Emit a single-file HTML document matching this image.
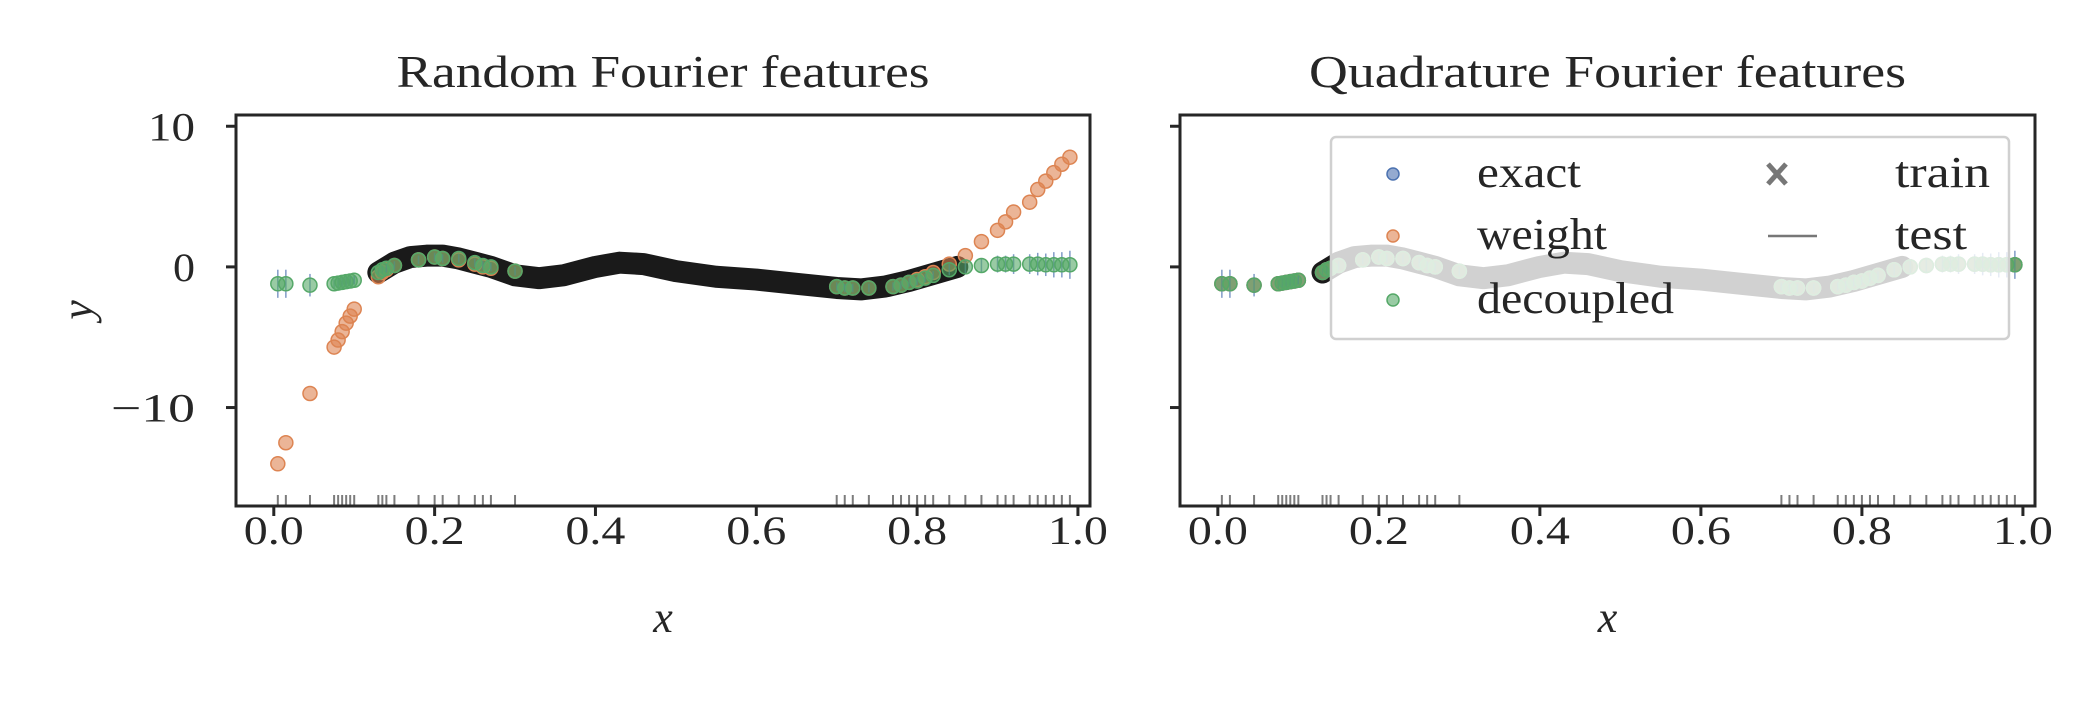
<!DOCTYPE html>
<html><head><meta charset="utf-8"><style>
body{margin:0;background:#fff}
svg text{font-family:"Liberation Serif",serif;fill:#262626}
</style></head><body>
<svg id="chart" width="2100" height="700" xmlns="http://www.w3.org/2000/svg"></svg>
<script>
const trainX=[0.005,0.015,0.045,0.075,0.08,0.085,0.09,0.095,0.1,0.13,0.135,0.14,0.15,0.18,0.2,0.21,0.23,0.25,0.26,0.27,0.3,0.7,0.71,0.72,0.74,0.77,0.78,0.79,0.8,0.81,0.82,0.84,0.86,0.88,0.9,0.91,0.92,0.94,0.95,0.96,0.97,0.98,0.99];
const decoupledY=[-1.2,-1.2,-1.3,-1.2,-1.15,-1.1,-1.05,-1.0,-0.95,-0.4,-0.2,-0.1,0.1,0.5,0.7,0.6,0.6,0.3,0.1,0.0,-0.3,-1.4,-1.5,-1.5,-1.5,-1.4,-1.3,-1.1,-1.0,-0.8,-0.6,-0.2,0.0,0.1,0.2,0.2,0.2,0.2,0.2,0.15,0.15,0.15,0.15];
const weightY=[-14,-12.5,-9,-5.7,-5.2,-4.6,-4,-3.5,-3,-0.7,-0.4,-0.2,0.1,0.5,0.7,0.6,0.5,0.2,0,-0.1,-0.3,-1.4,-1.5,-1.5,-1.5,-1.4,-1.3,-1.1,-0.9,-0.7,-0.4,0.2,0.8,1.8,2.6,3.2,3.9,4.6,5.5,6.1,6.7,7.3,7.8];
const errY=[1,1,0.8,0.3,0.3,0.3,0.3,0.3,0.3,0.3,0.3,0.3,0.3,0.3,0.3,0.3,0.3,0.3,0.3,0.3,0.3,0.3,0.3,0.3,0.3,0.3,0.3,0.3,0.3,0.3,0.3,0.4,0.5,0.5,0.6,0.6,0.7,0.7,0.8,0.8,0.9,0.9,1.0];
const quadY=[-1.2,-1.2,-1.3,-1.2,-1.15,-1.1,-1.05,-1.0,-0.95,-0.4,-0.2,-0.1,0.1,0.5,0.7,0.6,0.6,0.3,0.1,0.0,-0.3,-1.4,-1.5,-1.5,-1.5,-1.4,-1.3,-1.1,-1.0,-0.8,-0.6,-0.2,0.0,0.1,0.2,0.2,0.2,0.2,0.2,0.15,0.15,0.15,0.15];
const testX=[0.13,0.15,0.17,0.19,0.21,0.23,0.25,0.27,0.3,0.33,0.36,0.4,0.43,0.46,0.5,0.55,0.6,0.65,0.7,0.73,0.76,0.79,0.82,0.85];
const testY=[-0.4,0.3,0.7,0.8,0.8,0.6,0.3,0.0,-0.6,-0.8,-0.6,0.0,0.3,0.2,-0.3,-0.7,-0.9,-1.2,-1.5,-1.6,-1.4,-1.0,-0.5,0.0];
const xTicks=[0,0.2,0.4,0.6,0.8,1.0];
const xTickLabels=["0.0","0.2","0.4","0.6","0.8","1.0"];
const yTicks=[10,0,-10];
const yTickLabels=["10","0","\u221210"];

const NS="http://www.w3.org/2000/svg";
const svg=document.getElementById('chart');
function mk(tag,attrs,parent,text){const e=document.createElementNS(NS,tag);for(const k in attrs)e.setAttribute(k,attrs[k]);if(text!==undefined)e.textContent=text;(parent||svg).appendChild(e);return e;}

const panels=[
 {L:236,R:1090,title:"Random Fourier features",tw:533,series:[["weight",weightY,"#dd8452"],["decoupled",decoupledY,"#55a868"]],labels:true},
 {L:1180,R:2035,title:"Quadrature Fourier features",tw:597,series:[["exact",quadY,"#4c72b0"],["weight",quadY,"#dd8452"],["decoupled",quadY,"#55a868"]],labels:false}
];
const T=115,B=506,ymin=-17,ymax=10.8,xmin=-0.047,xmax=1.015;
panels.forEach((p,pi)=>{
 const g=mk('g',{});
 
 
 const sx=v=>p.L+(v-xmin)/(xmax-xmin)*(p.R-p.L);
 const sy=v=>B-(v-ymin)/(ymax-ymin)*(B-T);
 const t=mk('text',{x:(p.L+p.R)/2,y:87,'font-size':45,'text-anchor':'middle',textLength:p.tw,lengthAdjust:'spacingAndGlyphs'},g,p.title);
 
 const pts=testX.map((x,i)=>sx(x)+','+sy(testY[i])).join(' ');
 const band=mk('polyline',{points:pts,fill:'none',stroke:'#1a1a1a','stroke-width':22,'stroke-linejoin':'round','stroke-linecap':'round'},g);
 
 p.series.forEach(([name,ys,col])=>{
  trainX.forEach((x,i)=>{
   if(name==='decoupled'){const eb=mk('line',{x1:sx(x),x2:sx(x),y1:sy(ys[i]+errY[i]),y2:sy(ys[i]-errY[i]),stroke:'#4c72b0','stroke-width':1.5,opacity:0.7},g);
    }
   const c=mk('circle',{cx:sx(x),cy:sy(ys[i]),r:7,fill:col,'fill-opacity':0.6,stroke:col,'stroke-width':1.5},g);
   
  });
 });
 trainX.forEach(x=>{const r=mk('line',{x1:sx(x),x2:sx(x),y1:B-11,y2:B,stroke:'#262626','stroke-width':2,opacity:0.6},g);
  });
 const fr=mk('rect',{x:p.L,y:T,width:p.R-p.L,height:B-T,fill:'none',stroke:'#262626','stroke-width':3},g);
 
 xTicks.forEach((v,i)=>{
  mk('line',{x1:sx(v),x2:sx(v),y1:B,y2:B+10,stroke:'#262626','stroke-width':3},g);
  const tl=mk('text',{x:sx(v),y:B+38,'font-size':40,'text-anchor':'middle',textLength:60,lengthAdjust:'spacingAndGlyphs'},g,xTickLabels[i]);
  
 });
 yTicks.forEach((v,i)=>{
  mk('line',{x1:p.L-10,x2:p.L,y1:sy(v),y2:sy(v),stroke:'#262626','stroke-width':3},g);
  if(p.labels){const w=[47,22,84][i];const tl=mk('text',{x:195-w,y:sy(v)+14,'font-size':40,textLength:w,lengthAdjust:'spacingAndGlyphs'},g,yTickLabels[i]);
   }
 });
 const xl=mk('text',{x:(p.L+p.R)/2,y:632,'font-size':44,'font-style':'italic','text-anchor':'middle'},g,'x');
 
 if(p.labels){const yl=mk('text',{x:0,y:0,'font-size':44,'font-style':'italic','text-anchor':'middle',transform:'translate(92,310) rotate(-90)'},g,'y');
  }
});
const lg=mk('g',{});


mk('rect',{x:1331,y:137,width:678,height:202,rx:5,fill:'#fff','fill-opacity':0.8,stroke:'#d0d0d0','stroke-width':2.5},lg);
[["exact","#4c72b0",174,104],["weight","#dd8452",236,130],["decoupled","#55a868",300,197]].forEach(([n,c,y,w])=>{
 const e=mk('g',{},lg);
 mk('circle',{cx:1393,cy:y,r:6,fill:c,'fill-opacity':0.6,stroke:c,'stroke-width':1.5},e);
 mk('text',{x:1477,y:y+13,'font-size':44,textLength:w,lengthAdjust:'spacingAndGlyphs'},e,n);
});
const e1=mk('g',{},lg);
mk('path',{d:'M1768,164 L1786,184 M1786,164 L1768,184',stroke:'#777','stroke-width':5},e1);
mk('text',{x:1895,y:187,'font-size':44,textLength:95,lengthAdjust:'spacingAndGlyphs'},e1,'train');
const e2=mk('g',{},lg);
mk('line',{x1:1768,x2:1817,y1:236,y2:236,stroke:'#777','stroke-width':2.5},e2);
mk('text',{x:1895,y:249,'font-size':44,textLength:72,lengthAdjust:'spacingAndGlyphs'},e2,'test');
</script>
</body></html>
